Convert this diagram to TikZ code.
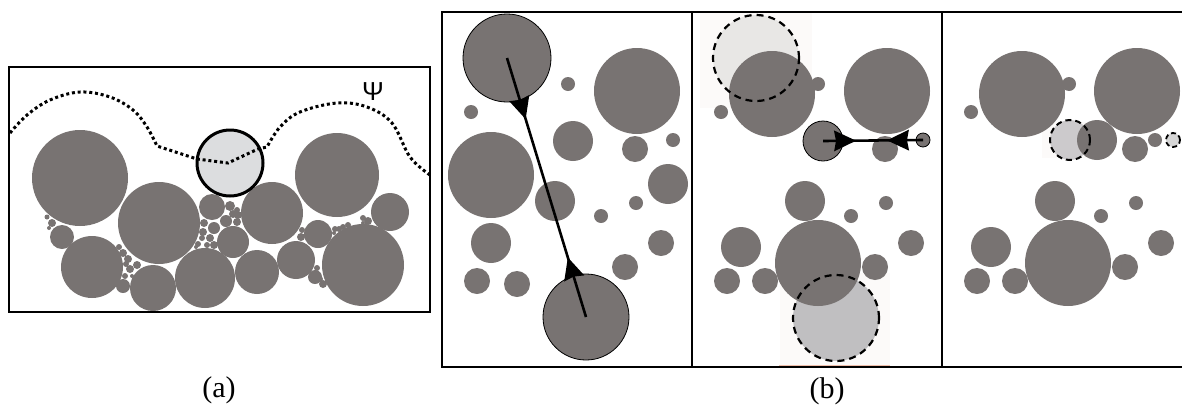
\documentclass[tikz,border=0pt]{standalone}
\usepackage{fontspec}
\setmainfont{Liberation Serif}
\newfontfamily\psifont{Liberation Sans}
\usetikzlibrary{calc}
\definecolor{dk}{RGB}{120,115,114}
\definecolor{lta}{RGB}{220,221,223}
\definecolor{ghA}{RGB}{232,231,229}
\definecolor{ghB}{RGB}{192,191,193}
\definecolor{ghC}{RGB}{204,202,204}
\definecolor{ghD}{RGB}{214,214,214}
\definecolor{faint}{RGB}{252,250,249}
\definecolor{pinkline}{RGB}{240,190,170}
\tikzset{
  dkc/.style={circle, inner sep=0pt, fill=dk},
  dko/.style={circle, inner sep=0pt, fill=dk, draw=black, line width=0.8pt},
  ltc/.style={circle, inner sep=0pt, fill=lta, draw=black, line width=3pt},
  ghost/.style={circle, inner sep=0pt, fill=#1},
  ghostline/.style={circle, inner sep=0pt, draw=black, line width=2.2pt, dash pattern=on 7pt off 5pt},
  boxline/.style={draw=black, line width=1.8pt},
  psiline/.style={line width=3pt, dash pattern=on 3pt off 2.8pt},
  conn/.style={line width=2.6pt},
  headfill/.style={fill=black},
  lbl/.style={font=\fontsize{30}{32}\selectfont, inner sep=0pt},
}
\newcommand\gblob[4]{\node[#1, minimum size=2*#4pt] (#2) at (#3) {};}
% arrowhead: #1 name, #2 tip coordinate, #3 point behind the tip
\newcommand\arrowhd[3]{%
  \coordinate (#1b) at ($(#2)!22pt!(#3)$);
  \fill[headfill] (#2) -- ($(#1b)!10.5pt!90:(#2)$) -- ($(#2)!20pt!(#3)$) -- ($(#1b)!10.5pt!-90:(#2)$) -- cycle;}
\begin{document}
\begin{tikzpicture}[x=1pt,y=-1pt]
\useasboundingbox (0,0) rectangle (1182,405);

% ================= panel (a) =================
\foreach \x/\y/\r [count=\i] in {
  80/178/48, 159/223/41, 337/175/42, 390/212/19, 272/213/31, 363/265/41,
  92/267/31, 153/288/23, 205/278/30, 257/272/22, 296/260/19, 318/234/14,
  62/237/12, 233/242/16, 212/207/13, 123/286/7, 315/277/7,
  52/223/4, 47/217/2.5, 49/228/2,
  119/247/3, 123/253/4, 128/259/4, 126/264/3, 130/269/4, 137/265/4, 125/276/3, 132/276/2,
  230/206/5, 237/210/3, 233/214/4, 238/215/4, 226/221/6, 237/222/4, 204/223/4, 214/228/6,
  203/232/4, 210/238/4, 202/238/3, 198/244/3, 207/245/3, 214/245/4, 196/247/2,
  335/229/3, 339/229/3, 343/227/3, 348/225/3, 334/233/2, 363/218/3, 368/221/4, 363/223/2,
  302/230/3, 301/237/4, 317/268/3, 323/284/4, 320/279/3}
  \node[dkc, minimum size=2*\r pt] (a\i) at (\x,\y) {};
\gblob{ltc}{amove}{230,163}{33}
\draw[psiline] plot[smooth, tension=0.6] coordinates{(10,133) (27,115) (50,100) (80,92) (110,97) (133,110) (147,127) (157,146)}
  -- (197,159) -- (228,163) -- (258,149) -- (267,147)
  -- plot[smooth, tension=0.6] coordinates{(267,147) (280,127) (300,112) (337,103) (367,107) (392,123) (410,157) (430,175)};
\node[inner sep=0pt] (psi) at (373,92) {\psifont\fontsize{26}{28}\selectfont Ψ};
\draw[boxline] (9,67) rectangle (430,312);
\node[lbl] (la) at (219,390) {(a)};

% ================= panel (b) =================
% faint pasted backgrounds
\fill[faint] (700,13) rectangle (812,108);
\fill[faint] (780,273) rectangle (890,366);
\fill[faint] (1042,122) rectangle (1110,158);
\draw[pinkline, line width=1pt] (779,365.5) -- (890,365.5);

% --- sub-panel 1 ---
\begin{scope}[shift={(442,0)}]
\foreach \x/\y/\r [count=\i] in {
  126/84/7, 195/91/43, 29/112/7, 131/141/20, 193/149/13, 231/140/7,
  49/175/43, 226/184/20, 113/201/20, 194/203/7, 159/216/7, 49/243/20,
  219/243/13, 183/267/13, 35/281/13, 75/284/13}
  \node[dkc, minimum size=2*\r pt] (p\i) at (\x,\y) {};
\gblob{dko}{ptop}{65,58}{44}
\gblob{dko}{pbot}{144,317}{43}
\end{scope}
\draw[conn] (ptop.center) -- (pbot.center);
\coordinate (pt1) at ($(ptop.center)!0.236!(pbot.center)$);
\coordinate (pt2) at ($(ptop.center)!0.77!(pbot.center)$);
\arrowhd{ph1}{pt1}{ptop.center}
\arrowhd{ph2}{pt2}{pbot.center}

% --- sub-panel 2 ---
\begin{scope}[shift={(692,0)}]
\gblob{ghost=ghA}{qgA}{64,58}{43}
\gblob{ghost=ghB}{qgB}{144,318}{43}
\foreach \x/\y/\r [count=\i] in {
  126/84/7, 195/91/43, 29/112/7, 193/149/13, 113/201/20, 194/203/7,
  159/216/7, 49/247/20, 219/243/13, 183/267/13, 35/281/13, 73/281/13,
  80/94/43, 126/263/43}
  \node[dkc, minimum size=2*\r pt] (q\i) at (\x,\y) {};
\gblob{dko}{qa}{131,141}{20}
\gblob{dko}{qb}{231,140}{7}
\gblob{ghostline}{qlA}{64,58}{43}
\gblob{ghostline}{qlB}{144,318}{43}
\end{scope}
\draw[conn] (qa.center) -- (qb.center);
\coordinate (qt1) at ($(qa.center)!0.33!(qb.center)$);
\coordinate (qt2) at ($(qa.center)!0.64!(qb.center)$);
\arrowhd{qh1}{qt1}{qa.center}
\arrowhd{qh2}{qt2}{qb.center}

% --- sub-panel 3 ---
\begin{scope}[shift={(942,0)}]
\gblob{ghost=ghC}{rgA}{128,140}{20}
\gblob{ghost=ghD}{rgB}{231,140}{7}
\foreach \x/\y/\r [count=\i] in {
  80/94/43, 127/84/7, 195/91/43, 29/112/7, 193/149/13, 113/201/20,
  194/203/7, 159/216/7, 49/247/20, 219/243/13, 183/267/13, 35/281/13,
  73/281/13, 126/263/43, 155/140/20, 213/140/7}
  \node[dkc, minimum size=2*\r pt] (r\i) at (\x,\y) {};
\node[circle, inner sep=0pt, draw=black, line width=2pt, dash pattern=on 6pt off 4pt, minimum size=40pt] (rlA) at (128,140) {};
\node[circle, inner sep=0pt, draw=black, line width=1.8pt, dash pattern=on 5pt off 3pt, minimum size=14pt] (rlB) at (231,140) {};
\end{scope}

% frame of (b)
\draw[boxline] (1182,12) -- (442,12) -- (442,367) -- (1182,367);
\draw[boxline] (692,12) -- (692,367);
\draw[boxline] (942,12) -- (942,367);
\node[lbl] (lb) at (827,391) {(b)};
\end{tikzpicture}
\end{document}
